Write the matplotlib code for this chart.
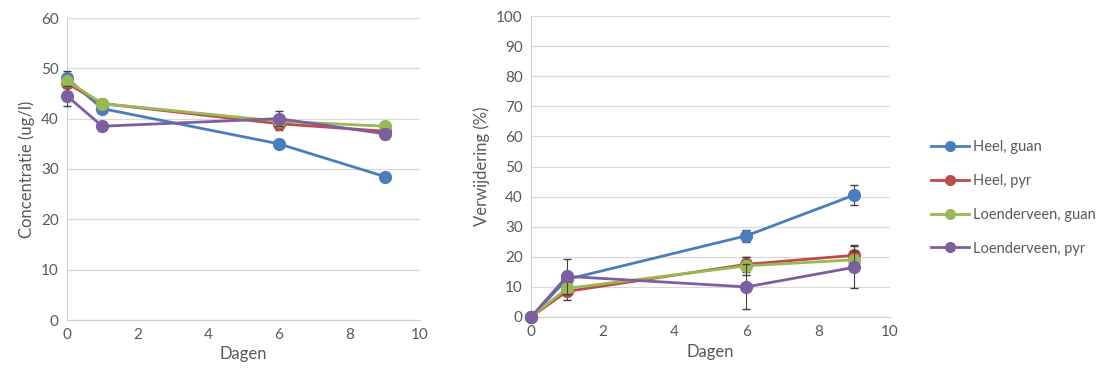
import numpy as np
import matplotlib.pyplot as plt
from matplotlib.lines import Line2D

plt.rcParams['font.family'] = ['Lato', 'DejaVu Sans']

dagen = [0, 1, 6, 9]
labels = ['Heel, guan', 'Heel, pyr', 'Loenderveen, guan', 'Loenderveen, pyr']
colors = ['#4a7ebb', '#be4b48', '#98b954', '#7d5fa0']

# concentratie (ug/l)
conc_heel_guan = [48.0, 42.0, 35.0, 28.5]
conc_heel_pyr = [47.0, 43.0, 39.0, 37.5]
conc_loen_guan = [47.5, 43.0, 39.5, 38.5]
conc_loen_pyr = [44.5, 38.5, 40.0, 37.0]
conc_err_heel_guan = [1.5, 0.4, 0.5, 0.5]
conc_err_heel_pyr = [1.0, 0.4, 1.2, 0.8]
conc_err_loen_guan = [1.0, 0.4, 0.8, 0.5]
conc_err_loen_pyr = [2.0, 0.4, 1.5, 1.0]

# verwijdering (%)
verw_heel_guan = [0, 12.5, 27.0, 40.5]
verw_heel_pyr = [0, 8.5, 17.5, 20.5]
verw_loen_guan = [0, 9.5, 17.0, 19.0]
verw_loen_pyr = [0, 13.5, 10.0, 16.5]
verw_err_heel_guan = [0, 2.5, 2.0, 3.2]
verw_err_heel_pyr = [0, 3.0, 2.5, 3.5]
verw_err_loen_guan = [0, 2.0, 3.0, 3.0]
verw_err_loen_pyr = [0, 5.8, 7.5, 7.0]

conc = [conc_heel_guan, conc_heel_pyr, conc_loen_guan, conc_loen_pyr]
conc_err = [conc_err_heel_guan, conc_err_heel_pyr, conc_err_loen_guan, conc_err_loen_pyr]
verw = [verw_heel_guan, verw_heel_pyr, verw_loen_guan, verw_loen_pyr]
verw_err = [verw_err_heel_guan, verw_err_heel_pyr, verw_err_loen_guan, verw_err_loen_pyr]

txt = '#595959'
W, H = 1101, 379
fig = plt.figure(figsize=(W / 100, H / 100), dpi=100)
ax1 = fig.add_axes([67 / W, 1 - 320 / H, (420 - 67) / W, (320 - 18) / H])
ax2 = fig.add_axes([531 / W, 1 - 317 / H, (890 - 531) / W, (317 - 16) / H])


def style(ax, ymax, ystep, ylabel):
    ax.set_xlim(0, 10)
    ax.set_ylim(0, ymax)
    ax.set_xticks(range(0, 11, 2))
    ax.set_yticks(range(0, ymax + 1, ystep))
    ax.grid(axis='y', color='#d9d9d9', linewidth=0.9)
    ax.set_axisbelow(True)
    for s in ['top', 'right']:
        ax.spines[s].set_visible(False)
    for s in ['left', 'bottom']:
        ax.spines[s].set_color('#d0d0d0')
    ax.tick_params(length=0, colors=txt, labelsize=11, pad=6)
    ax.set_xlabel('Dagen', color=txt, fontsize=12, labelpad=3)
    ax.set_ylabel(ylabel, color=txt, fontsize=12, labelpad=4)


for i in range(4):
    ax1.errorbar(dagen, conc[i], yerr=conc_err[i], color=colors[i], marker='o',
                 markersize=8.5, linewidth=2, ecolor='#404040', elinewidth=0.8,
                 capsize=3, clip_on=False, zorder=3 + i)
    ax2.errorbar(dagen, verw[i], yerr=verw_err[i], color=colors[i], marker='o',
                 markersize=8.5, linewidth=2, ecolor='#404040', elinewidth=0.8,
                 capsize=3, clip_on=False, zorder=3 + i)

style(ax1, 60, 10, 'Concentratie (ug/l)')
style(ax2, 100, 10, 'Verwijdering (%)')

handles = [Line2D([], [], color=c, marker='o', markersize=7, linewidth=2) for c in colors]
fig.legend(handles, labels, loc='center left', bbox_to_anchor=(918 / W, 1 - 198 / H),
           frameon=False, fontsize=10.5, labelcolor=txt, handlelength=2.6,
           handletextpad=0.3, labelspacing=1.35)

fig.savefig('out.png', dpi=100)
